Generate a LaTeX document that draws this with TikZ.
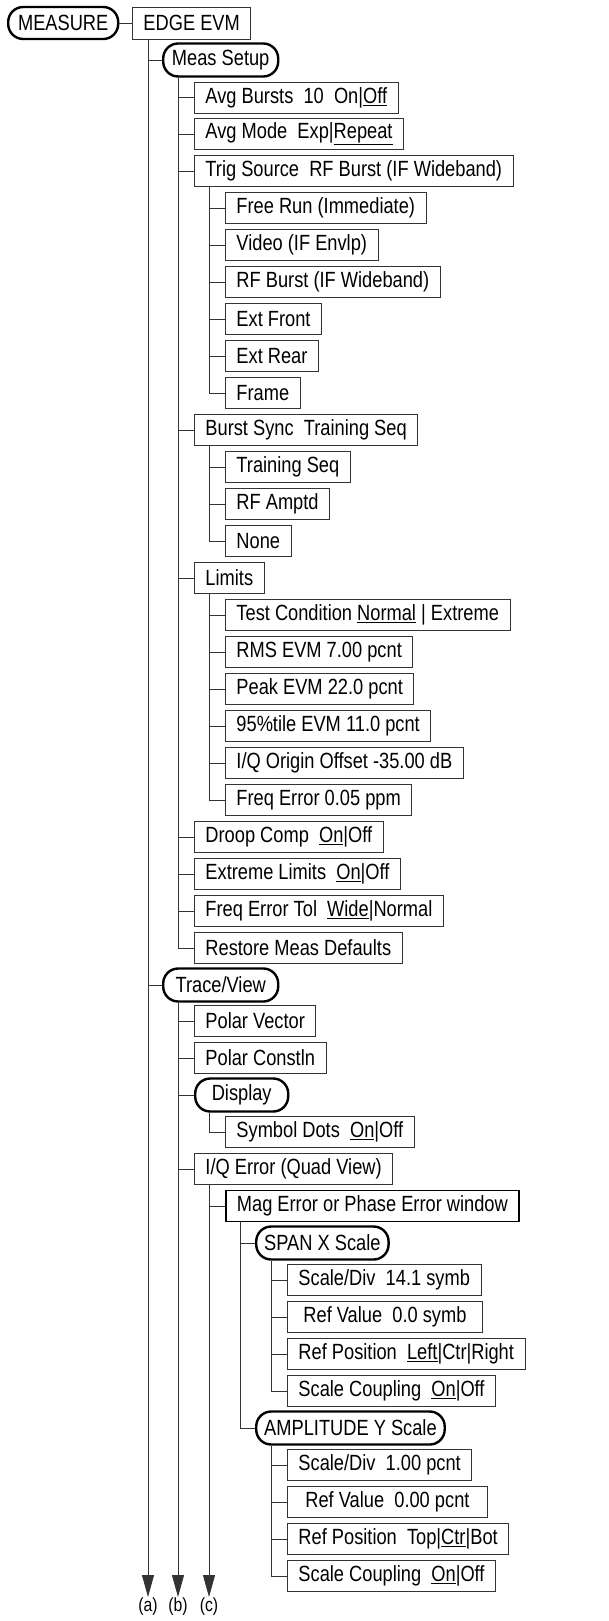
\documentclass[tikz,border=0pt]{standalone}
\usepackage{fontspec}
\setmainfont{Liberation Sans}[FakeStretch=0.83]
\usepackage{tikz}
\usetikzlibrary{arrows.meta,positioning}

\begin{document}
\begin{tikzpicture}[x=1pt, y=-1pt, >=Latex]
        \tikzset{menu/.style={rectangle, draw=black!80, line width=0.9pt, anchor=west, minimum height=31pt, inner xsep=11pt, font=\fontsize{22}{24}\selectfont}, key/.style={rectangle, draw, rounded corners=15pt, line width=2.4pt, anchor=west, minimum height=33pt, inner xsep=8pt, font=\fontsize{22}{24}\selectfont}, wire/.style={draw=black!80, line width=0.9pt}, drop/.style={wire, -{Triangle[width=12pt, length=22pt]}}, lab/.style={inner sep=0.5pt, font=\fontsize{19}{20}\selectfont}}
        \useasboundingbox (0,0) rectangle (608,1621);
        % top
        \node[key, minimum width=110pt, minimum height=32pt] (measure) at (7,23) {MEASURE};
        \node[menu, minimum width=118pt, minimum height=32pt] (edge) at (132,23) {EDGE EVM};
        \node[key, minimum width=115pt] (meas) at (162,60) {Meas Setup};
        \node[menu] (avgb) at (194,97.5) {Avg Bursts~~10~~On|\underline{Off}};
        \node[menu] (avgm) at (194,134) {Avg Mode~~Exp|\underline{Repeat}};
        \node[menu] (trig) at (194,171) {Trig Source~~RF Burst (IF Wideband)};
        \node[menu] (free) at (225,208) {Free Run (Immediate)};
        \node[menu] (video) at (225,245) {Video (IF Envlp)};
        \node[menu] (rfb) at (225,282) {RF Burst (IF Wideband)};
        \node[menu] (extf) at (225,319) {Ext Front};
        \node[menu] (extr) at (225,356) {Ext Rear};
        \node[menu] (frame) at (225,393) {Frame};
        \node[menu] (sync) at (194,430) {Burst Sync~~Training Seq};
        \node[menu] (train) at (225,467) {Training Seq};
        \node[menu] (rfamp) at (225,504) {RF Amptd};
        \node[menu] (none) at (225,541) {None};
        \node[menu] (limits) at (194,578) {Limits};
        \node[menu] (testc) at (225,615) {Test Condition \underline{Normal} | Extreme};
        \node[menu] (rms) at (225,652) {RMS EVM 7.00 pcnt};
        \node[menu] (peak) at (225,689) {Peak EVM 22.0 pcnt};
        \node[menu] (tile) at (225,726) {95\%tile EVM 11.0 pcnt};
        \node[menu] (iqo) at (225,763) {I/Q Origin Offset -35.00 dB};
        \node[menu] (ferr) at (225,800) {Freq Error 0.05 ppm};
        \node[menu] (droop) at (194,837) {Droop Comp~~\underline{On}|Off};
        \node[menu] (extl) at (194,874) {Extreme Limits~~\underline{On}|Off};
        \node[menu] (ftol) at (194,911) {Freq Error Tol~~\underline{Wide}|Normal};
        \node[menu] (restore) at (194,948) {Restore Meas Defaults};
        % trace/view
        \node[key, minimum width=115pt] (trace) at (162,985) {Trace/View};
        \node[menu] (polv) at (194,1021) {Polar Vector};
        \node[menu] (polc) at (194,1058) {Polar Constln};
        \node[key, minimum width=93pt] (disp) at (194,1095) {Display};
        \node[menu] (dots) at (225,1132) {Symbol Dots~~\underline{On}|Off};
        \node[menu] (iqerr) at (194,1169) {I/Q Error (Quad View)};
        \node[menu, line width=1.8pt, draw=black] (mag) at (225,1206) {Mag Error or Phase Error window};
        \node[key] (span) at (255,1243) {SPAN X Scale};
        \node[menu] (sdivx) at (287,1280) {Scale/Div~~14.1 symb};
        \node[menu, minimum width=195pt] (rvalx) at (287,1317) {Ref Value~~0.0 symb};
        \node[menu] (rposx) at (287,1354) {Ref Position~~\underline{Left}|Ctr|Right};
        \node[menu] (scplx) at (287,1391) {Scale Coupling~~\underline{On}|Off};
        \node[key] (amp) at (255,1428) {AMPLITUDE Y Scale};
        \node[menu] (sdivy) at (287,1465) {Scale/Div~~1.00 pcnt};
        \node[menu, minimum width=200pt] (rvaly) at (287,1502) {Ref Value~~0.00 pcnt};
        \node[menu] (rposy) at (287,1539) {Ref Position~~Top|\underline{Ctr}|Bot};
        \node[menu] (scply) at (287,1576) {Scale Coupling~~\underline{On}|Off};
        % arrow ends
        \coordinate (enda) at (148,1597);
        \coordinate (endb) at (178,1597);
        \coordinate (endc) at (209,1597);
        \node[lab, below=0pt of enda] (laba) {(a)};
        \node[lab, below=0pt of endb] (labb) {(b)};
        \node[lab, below=0pt of endc] (labc) {(c)};
        % connectors
        \draw[wire] (measure) -- (edge);
        \draw[drop] (enda |- edge.south) -- (enda);
        \draw[wire] (enda |- meas.west) -- (meas.west);
        \draw[wire] (enda |- trace.west) -- (trace.west);
        \draw[wire] (endb |- meas.south) |- (restore.west);
        \draw[wire] (endb |- avgb.west) -- (avgb.west);
        \draw[wire] (endb |- avgm.west) -- (avgm.west);
        \draw[wire] (endb |- trig.west) -- (trig.west);
        \draw[wire] (endb |- sync.west) -- (sync.west);
        \draw[wire] (endb |- limits.west) -- (limits.west);
        \draw[wire] (endb |- droop.west) -- (droop.west);
        \draw[wire] (endb |- extl.west) -- (extl.west);
        \draw[wire] (endb |- ftol.west) -- (ftol.west);
        \draw[wire] (endc |- trig.south) |- (frame.west);
        \draw[wire] (endc |- free.west) -- (free.west);
        \draw[wire] (endc |- video.west) -- (video.west);
        \draw[wire] (endc |- rfb.west) -- (rfb.west);
        \draw[wire] (endc |- extf.west) -- (extf.west);
        \draw[wire] (endc |- extr.west) -- (extr.west);
        \draw[wire] (endc |- sync.south) |- (none.west);
        \draw[wire] (endc |- train.west) -- (train.west);
        \draw[wire] (endc |- rfamp.west) -- (rfamp.west);
        \draw[wire] (endc |- limits.south) |- (ferr.west);
        \draw[wire] (endc |- testc.west) -- (testc.west);
        \draw[wire] (endc |- rms.west) -- (rms.west);
        \draw[wire] (endc |- peak.west) -- (peak.west);
        \draw[wire] (endc |- tile.west) -- (tile.west);
        \draw[wire] (endc |- iqo.west) -- (iqo.west);
        \draw[drop] (endb |- trace.south) -- (endb);
        \draw[wire] (endb |- polv.west) -- (polv.west);
        \draw[wire] (endb |- polc.west) -- (polc.west);
        \draw[wire] (endb |- disp.west) -- (disp.west);
        \draw[wire] (endb |- iqerr.west) -- (iqerr.west);
        \draw[wire] (endc |- disp.south) |- (dots.west);
        \draw[drop] (endc |- iqerr.south) -- (endc);
        \draw[wire] (endc |- mag.west) -- (mag.west);
        \draw[wire] ([xshift=-15pt]span.west |- mag.south) |- (amp.west);
        \draw[wire] ([xshift=-15pt]span.west) -- (span.west);
        \draw[wire] ([xshift=-16pt]sdivx.west |- span.south) |- (scplx.west);
        \draw[wire] ([xshift=-16pt]sdivx.west) -- (sdivx.west);
        \draw[wire] ([xshift=-16pt]rvalx.west) -- (rvalx.west);
        \draw[wire] ([xshift=-16pt]rposx.west) -- (rposx.west);
        \draw[wire] ([xshift=-16pt]sdivy.west |- amp.south) |- (scply.west);
        \draw[wire] ([xshift=-16pt]sdivy.west) -- (sdivy.west);
        \draw[wire] ([xshift=-16pt]rvaly.west) -- (rvaly.west);
        \draw[wire] ([xshift=-16pt]rposy.west) -- (rposy.west);
    \end{tikzpicture}
\end{document}
